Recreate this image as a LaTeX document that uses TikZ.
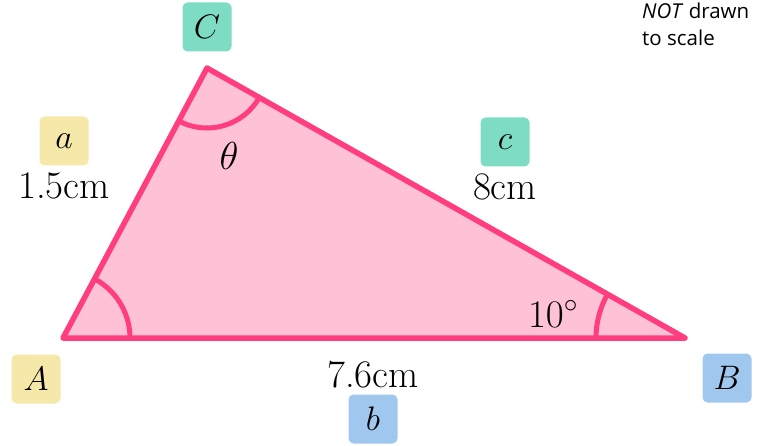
\documentclass[tikz,border=0pt]{standalone}
\usepackage{fix-cm}
\usepackage{fontspec}
\newfontfamily\notefont{Open Sans}
\usetikzlibrary{angles,positioning}

\definecolor{edgepink}{HTML}{FF3D7F}
\definecolor{fillpink}{HTML}{FFC1D6}
\definecolor{boxyellow}{HTML}{F6E8A9}
\definecolor{boxgreen}{HTML}{7FDCC4}
\definecolor{boxblue}{HTML}{A0C8EE}

\begin{document}
\begin{tikzpicture}[%
x=1pt, y=1pt,
font=\fontsize{39}{44}\selectfont,
lbl/.style={rounded corners=5pt, minimum size=49pt, inner sep=0pt, font=\fontsize{34}{40}\selectfont},
anglemark/.style={draw=edgepink, line width=5pt}
]
\useasboundingbox (0,0) rectangle (768,445);

\coordinate (A) at (63,107);
\coordinate (B) at (685,107);
\coordinate (C) at (207,377);

% triangle
\filldraw[fill=fillpink, draw=edgepink, line width=5.5pt, line join=round]
  (A) -- (B) -- (C) -- cycle;

% angle arcs
\pic[anglemark, angle radius=67pt] {angle=B--A--C};
\pic[anglemark, angle radius=89pt] {angle=C--B--A};
\pic[anglemark, angle radius=60pt] {angle=A--C--B};

% vertex labels
\node[lbl, fill=boxgreen] (labC) at (207,418) {$C$};
\node[lbl, fill=boxyellow] (labA) at (36,66) {$A$};
\node[lbl, fill=boxblue] (labB) at (727,67) {$B$};

% side labels
\node[lbl, fill=boxyellow] (laba) at (64,304) {$a$};
\node (lena) [below=3pt of laba] {1.5cm};
\node[lbl, fill=boxgreen] (labc) at (505,303) {$c$};
\node (lenc) [below=3pt of labc] {8cm};
\node[lbl, fill=boxblue] (labb) at (373,26) {$b$};
\node (lenb) [above=3pt of labb] {7.6cm};

% angle values
\node (theta) at (229,289) {$\theta$};
\node (ten) at (553,131) {$10^\circ$};

% note
\node[font=\notefont\fontsize{20.5}{27}\selectfont, align=left, anchor=north west, inner sep=0pt]
  (note) at (642,442) {\textit{NOT} drawn\\to scale};
\end{tikzpicture}
\end{document}
